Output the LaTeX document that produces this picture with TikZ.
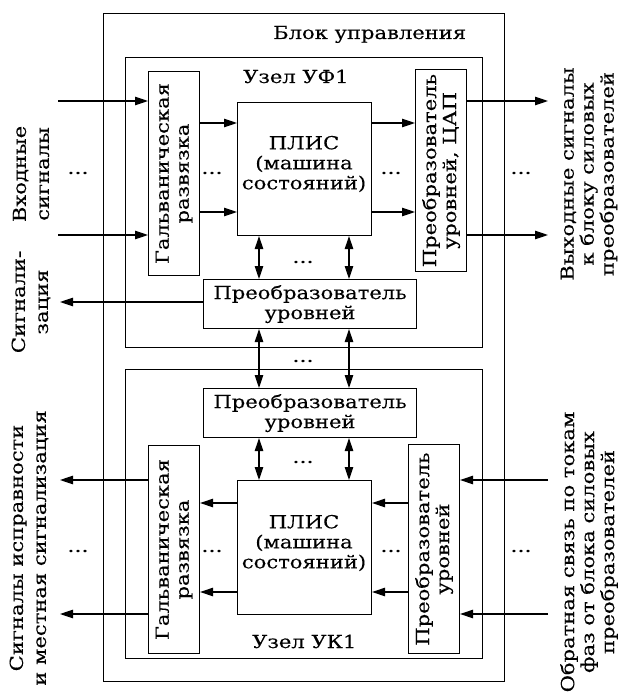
\documentclass[tikz,border=0pt]{standalone}
\usepackage{fontspec}
\setmainfont[FakeStretch=1.17,FakeBold=0.25]{DejaVu Serif}
\usetikzlibrary{arrows.meta}
\newcommand{\mainfs}{\fontsize{18}{20}\selectfont}
\newcommand{\leftfs}{\fontsize{18}{23}\selectfont}
\begin{document}
\begin{tikzpicture}[x=1pt,y=-1pt,
  box/.style={draw, line width=1.1pt, inner sep=0pt, anchor=north west},
  txt/.style={font=\mainfs, align=center, inner sep=0pt},
  ltxt/.style={font=\leftfs, align=center, inner sep=0pt, rotate=90},
  arr/.style={line width=1.1pt, -{Triangle[length=13pt,width=8.5pt]}},
  biarr/.style={line width=1.1pt, {Triangle[length=13pt,width=8.5pt]}-{Triangle[length=13pt,width=8.5pt]}},
  dots/.style={font=\mainfs, inner sep=0pt}]
\useasboundingbox (0,0) rectangle (623,695);
% frames
\node[box, minimum width=401, minimum height=668] (outer) at (103,13) {};
\node[box, minimum width=357, minimum height=290] (uf) at (125,57) {};
\node[box, minimum width=357, minimum height=289] (uk) at (125,369) {};
\node[txt, anchor=base west] (outerlbl) at (273,39) {Блок управления};
\node[txt, anchor=base west] (uflbl) at (243,83) {Узел УФ1};
\node[txt, anchor=base west] (uklbl) at (252,648) {Узел УК1};
% upper node
\node[box, minimum width=51, minimum height=204] (galv1) at (148,71) {};
\node[txt, rotate=90] (galv1t) at (galv1.center) {Гальваническая\\развязка};
\node[box, minimum width=134, minimum height=133] (plis1) at (237,102) {};
\node[txt] (plis1t) at (304,164) {ПЛИС\\(машина\\состояний)};
\node[box, minimum width=51, minimum height=202] (conv1) at (415,69) {};
\node[txt, rotate=90] (conv1t) at (conv1.center) {Преобразователь\\уровней, ЦАП};
\node[box, minimum width=213, minimum height=49] (lev1) at (203,279) {};
\node[txt] (lev1t) at (lev1.center) {Преобразователь\\уровней};
% lower node
\node[box, minimum width=213, minimum height=49] (lev2) at (203,388) {};
\node[txt] (lev2t) at (lev2.center) {Преобразователь\\уровней};
\node[box, minimum width=51, minimum height=208] (galv2) at (148,445) {};
\node[txt, rotate=90] (galv2t) at (galv2.center) {Гальваническая\\развязка};
\node[box, minimum width=134, minimum height=134] (plis2) at (237,480) {};
\node[txt] (plis2t) at (304,543) {ПЛИС\\(машина\\состояний)};
\node[box, minimum width=51, minimum height=209] (conv2) at (408,444) {};
\node[txt, rotate=90] (conv2t) at (conv2.center) {Преобразователь\\уровней};
% outside labels
\node[ltxt] (inlbl) at (31,174) {Входные\\сигналы};
\node[ltxt] (siglbl) at (31,302) {Сигнали-\\зация};
\node[txt, rotate=90] (outlbl) at (589,174) {Выходные сигналы\\к блоку силовых\\преобразователей};
\node[ltxt] (faultlbl) at (29,548) {Сигналы исправности\\и местная сигнализация};
\node[txt, rotate=90] (fblbl) at (589,552) {Обратная связь по токам\\фаз от блока силовых\\преобразователей};
% free ends
\coordinate (inA) at (58,101);
\coordinate (inB) at (58,235);
\coordinate (outA) at (548,101);
\coordinate (outB) at (548,235);
\coordinate (sigE) at (60,302);
\coordinate (fA) at (60,480);
\coordinate (fB) at (60,614);
\coordinate (bA) at (548,480);
\coordinate (bB) at (548,614);
\coordinate (xa) at (259,0);
\coordinate (xb) at (349,0);
\coordinate (ya) at (0,123);
\coordinate (yb) at (0,212);
\coordinate (yc) at (0,503);
\coordinate (yd) at (0,592);
% upper connectors
\draw[arr] (inA) -- (inA -| galv1.west);
\draw[arr] (inB) -- (inB -| galv1.west);
\draw[arr] (galv1.east |- ya) -- (plis1.west |- ya);
\draw[arr] (galv1.east |- yb) -- (plis1.west |- yb);
\draw[arr] (plis1.east |- ya) -- (conv1.west |- ya);
\draw[arr] (plis1.east |- yb) -- (conv1.west |- yb);
\draw[arr] (outA -| conv1.east) -- (outA);
\draw[arr] (outB -| conv1.east) -- (outB);
\draw[biarr] (plis1.south -| xa) -- (lev1.north -| xa);
\draw[biarr] (plis1.south -| xb) -- (lev1.north -| xb);
\draw[arr] (sigE -| lev1.west) -- (sigE);
\draw[biarr] (lev1.south -| xa) -- (lev2.north -| xa);
\draw[biarr] (lev1.south -| xb) -- (lev2.north -| xb);
% lower connectors
\draw[biarr] (lev2.south -| xa) -- (plis2.north -| xa);
\draw[biarr] (lev2.south -| xb) -- (plis2.north -| xb);
\draw[arr] (plis2.west |- yc) -- (galv2.east |- yc);
\draw[arr] (plis2.west |- yd) -- (galv2.east |- yd);
\draw[arr] (fA -| galv2.west) -- (fA);
\draw[arr] (fB -| galv2.west) -- (fB);
\draw[arr] (bA) -- (bA -| conv2.east);
\draw[arr] (bB) -- (bB -| conv2.east);
\draw[arr] (conv2.west |- yc) -- (plis2.east |- yc);
\draw[arr] (conv2.west |- yd) -- (plis2.east |- yd);
% dots
\node[dots] (d1) at (78,173) {…};
\node[dots] (d2) at (212,173) {…};
\node[dots] (d3) at (391,173) {…};
\node[dots] (d4) at (521,173) {…};
\node[dots] (d5) at (303,262) {…};
\node[dots] (d6) at (303,361) {…};
\node[dots] (d7) at (303,462) {…};
\node[dots] (d8) at (78,551) {…};
\node[dots] (d9) at (212,551) {…};
\node[dots] (d10) at (391,551) {…};
\node[dots] (d11) at (521,551) {…};
\end{tikzpicture}
\end{document}
